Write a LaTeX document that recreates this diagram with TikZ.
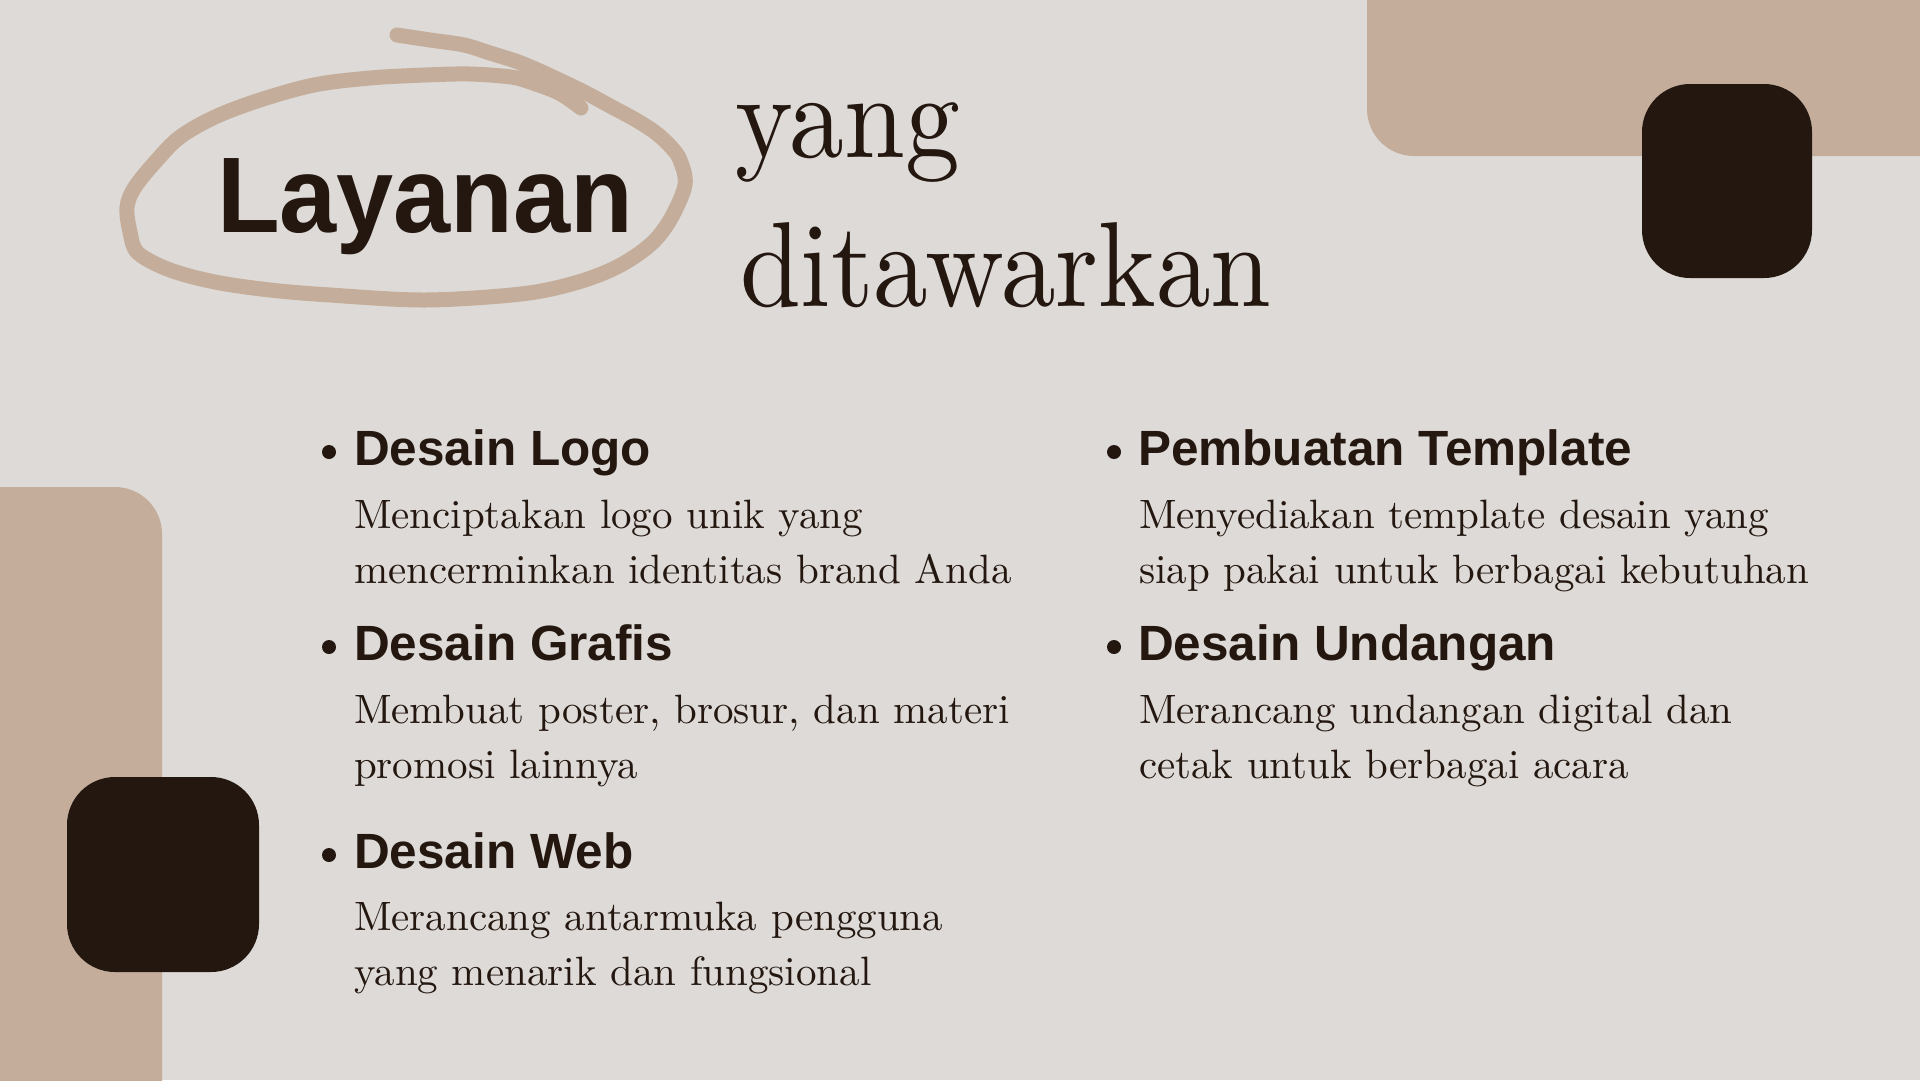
\documentclass[tikz,border=0pt]{standalone}
\usepackage{fontspec}
\usepackage{graphicx}
\newfontfamily\hfont{Liberation Sans}
\newfontfamily\serifdisp{lmroman10-regular.otf}
\definecolor{bgc}{HTML}{DEDAD7}
\definecolor{tanc}{HTML}{C4AE9B}
\definecolor{darkc}{HTML}{231710}
\begin{document}
\begin{tikzpicture}[x=1pt,y=-1pt,
  every node/.style={inner sep=0pt, outer sep=0pt, text=darkc},
  heading/.style={anchor=base west, font=\hfont\bfseries\fontsize{49.5}{49.5}\selectfont},
  bodytext/.style={anchor=base west, font=\serifdisp\fontsize{41}{41}\selectfont},
  titleserif/.style={anchor=base west, font=\serifdisp\fontsize{121}{121}\selectfont},
  bulletdot/.style={circle, fill=darkc, minimum size=14pt},
  tanblock/.style={fill=tanc, rounded corners=47pt},
  darkblock/.style={fill=darkc, rounded corners=48pt},
  loopstroke/.style={draw=tanc, line width=15pt, line cap=round, line join=round}]
\fill[bgc] (0,0) rectangle (1920,1080);
\useasboundingbox (0,0) rectangle (1920,1080);
% decorative blocks
\fill[tanblock] (1367,-80) rectangle (2000,156);
\fill[tanblock] (-80,487) rectangle (162,1160);
\fill[darkblock] (1642,84) rectangle (1812,278);
\fill[darkblock] (67,777) rectangle (259,972);
% hand-drawn loop
\draw[loopstroke] plot[smooth, tension=0.55] coordinates {
 (581,108) (559,93) (530,82) (511,77) (470,74) (425,75) (370,78) (314,85)
 (260,100) (215,117) (180,137) (157,160) (135,187) (127,207) (130,232)
 (138,253) (170,270) (215,282) (270,290) (330,295) (425,300) (521,294)
 (575,283) (617,267) (650,245) (670,220) (685,185) (680,160) (671,147)
 (656,133) (636,120) (612,107) (586,93) (555,78) (521,63) (490,53)
 (464,45) (430,40) (397,35)};
% titles
\node[anchor=base west, font=\hfont\bfseries\fontsize{107.5}{107.5}\selectfont] (lay) at (217,232) {\scalebox{0.955}[1]{Layanan}};
\node[titleserif] (yang) at (735,157) {\scalebox{0.905}[1]{yang}};
\node[titleserif] (dita) at (740,306) {\scalebox{0.903}[1]{ditawarkan}};
% left column
\node[bulletdot] (dot1) at (329,452) {};
\node[heading] (h1) at (354,465) {Desain Logo};
\node[bodytext] (b1a) at (354,528) {Menciptakan logo unik yang};
\node[bodytext] (b1b) at (354,583) {mencerminkan identitas brand Anda};
\node[bulletdot] (dot2) at (329,647) {};
\node[heading] (h2) at (354,660) {Desain Grafis};
\node[bodytext] (b2a) at (354,723) {Membuat poster, brosur, dan materi};
\node[bodytext] (b2b) at (354,778) {promosi lainnya};
\node[bulletdot] (dot3) at (329,855) {};
\node[heading] (h3) at (354,868) {Desain Web};
\node[bodytext] (b3a) at (354,930) {Merancang antarmuka pengguna};
\node[bodytext] (b3b) at (354,985) {yang menarik dan fungsional};
% right column
\node[bulletdot] (dot4) at (1114,452) {};
\node[heading] (h4) at (1138,465) {Pembuatan Template};
\node[bodytext] (b4a) at (1139,528) {Menyediakan template desain yang};
\node[bodytext] (b4b) at (1139,583) {siap pakai untuk berbagai kebutuhan};
\node[bulletdot] (dot5) at (1114,647) {};
\node[heading] (h5) at (1138,660) {Desain Undangan};
\node[bodytext] (b5a) at (1139,723) {Merancang undangan digital dan};
\node[bodytext] (b5b) at (1139,778) {cetak untuk berbagai acara};
\end{tikzpicture}
\end{document}
